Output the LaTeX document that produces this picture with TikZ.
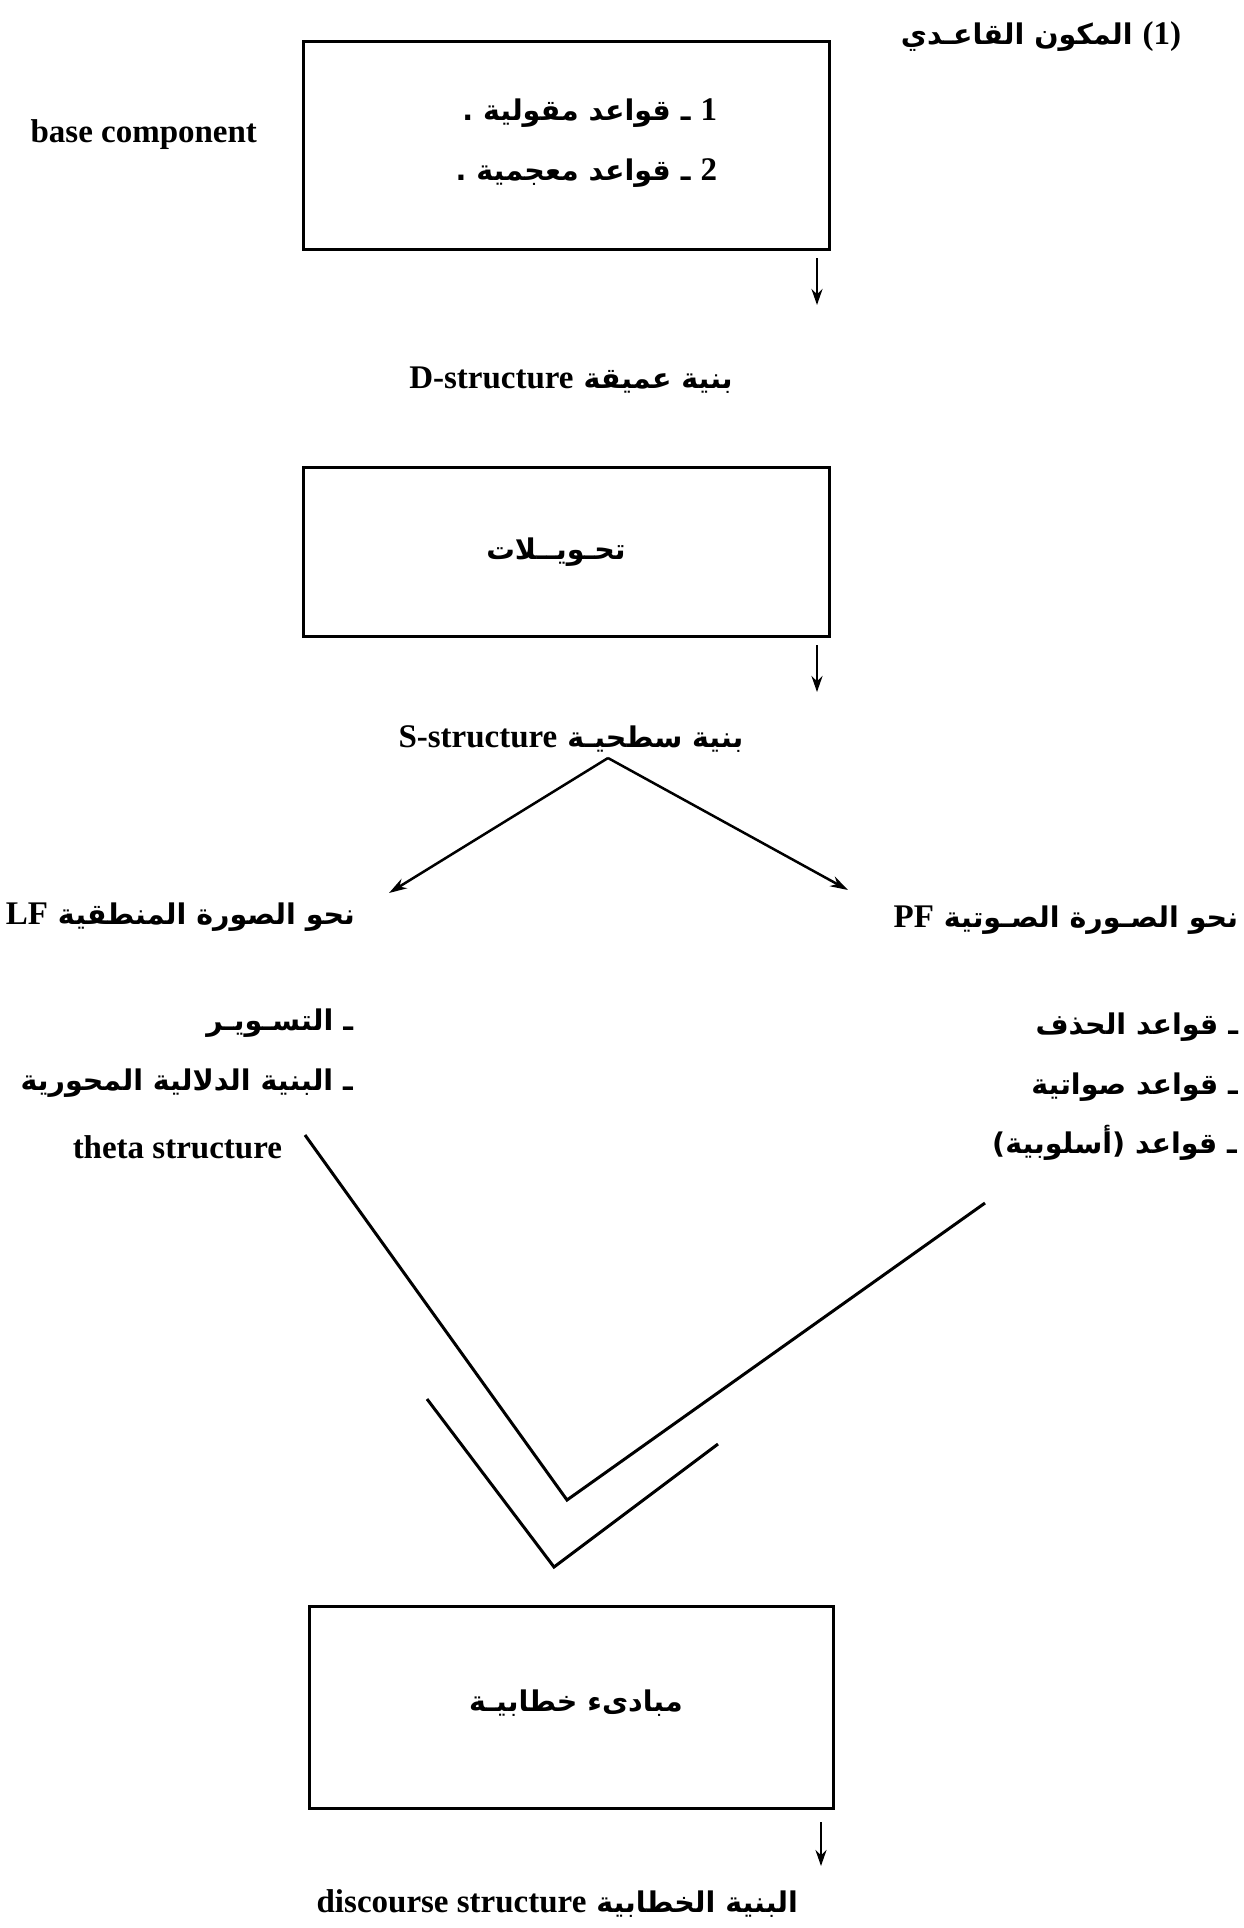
\documentclass[tikz,border=0pt]{standalone}
\usepackage{fontspec}
\setmainfont{Liberation Serif}
\newfontfamily\arfont[Script=Arabic]{DejaVu Sans}
\newfontfamily\latfont{Liberation Serif}
\TeXXeTstate=1
\usetikzlibrary{arrows.meta}
\newcommand\AR{\arfont\bfseries\fontsize{28.5}{34}\selectfont}
\newcommand\LT{\latfont\bfseries\fontsize{33}{40}\selectfont}

\tikzset{
  txt/.style={inner sep=0pt, outer sep=0pt},
  frame/.style={draw, line width=3pt, inner sep=0pt},
  downtip/.style={line width=2.5pt, -{Stealth[length=16pt,width=11pt]}},
  slanttip/.style={line width=2.5pt, -{Stealth[length=18pt,width=11pt]}},
  vee/.style={line width=3pt, line join=miter}
}

\begin{document}
\begin{tikzpicture}[x=1pt,y=-1pt]
\useasboundingbox (0,0) rectangle (1244,1928);

% heading
\node[txt, anchor=east] (title) at (1181,37)
  {\AR\beginR{\LT\beginL(1)\endL} المكون القاعـدي\endR};

% base component
\node[frame, anchor=north west, minimum width=526pt, minimum height=208pt] (base) at (302,40) {};
\node[txt, anchor=east] (rule1) at (717,113) {\AR\beginR{\LT 1} ـ قواعد مقولية .\endR};
\node[txt, anchor=east] (rule2) at (717,173) {\AR\beginR{\LT 2} ـ قواعد معجمية .\endR};
\node[txt, anchor=east] (basename) at (257,135) {\LT base component};

% D-structure
\coordinate (a1s) at (817,258);
\coordinate (a1e) at (817,305);
\draw[downtip] (a1s) -- (a1e);
\node[txt] (dstr) at (571,380) {\AR\beginR بنية عميقة {\LT D-structure}\endR};

% transformations
\node[frame, anchor=north west, minimum width=526pt, minimum height=169pt] (trans) at (302,466) {};
\node[txt] (transname) at (556,552) {\AR\beginR تحـويــلات\endR};

% S-structure
\coordinate (a2s) at (817,645);
\coordinate (a2e) at (817,692);
\draw[downtip] (a2s) -- (a2e);
\node[txt] (sstr) at (571,739) {\AR\beginR بنية سطحيـة {\LT S-structure}\endR};

% split towards LF and PF
\coordinate (apex) at (608,758);
\coordinate (lftip) at (389,893);
\coordinate (pftip) at (848,890);
\draw[slanttip] (apex) -- (lftip);
\draw[slanttip] (apex) -- (pftip);

\node[txt, anchor=east] (lf) at (355,917) {\AR\beginR نحو الصورة المنطقية {\LT LF}\endR};
\node[txt, anchor=east] (pf) at (1238,920) {\AR\beginR نحو الصـورة الصـوتية {\LT PF}\endR};

\node[txt, anchor=east] (lf1) at (353,1023) {\AR\beginR ـ التسـويـر\endR};
\node[txt, anchor=east] (lf2) at (353,1083) {\AR\beginR ـ البنية الدلالية المحورية\endR};
\node[txt, anchor=east] (theta) at (282,1147) {\LT theta structure};

\node[txt, anchor=east] (pf1) at (1238,1027) {\AR\beginR ـ قواعد الحذف\endR};
\node[txt, anchor=east] (pf2) at (1238,1087) {\AR\beginR ـ قواعد صواتية\endR};
\node[txt, anchor=east] (pf3) at (1237,1143) {\AR\beginR ـ قواعد (أسلوبية)\endR};

% converging lines
\coordinate (va) at (305,1135);
\coordinate (vb) at (567,1500);
\coordinate (vc) at (985,1203);
\draw[vee] (va) -- (vb) -- (vc);
\coordinate (wa) at (427,1399);
\coordinate (wb) at (554,1567);
\coordinate (wc) at (718,1444);
\draw[vee] (wa) -- (wb) -- (wc);

% discourse principles
\node[frame, anchor=north west, minimum width=524pt, minimum height=202pt] (disc) at (308,1605) {};
\node[txt] (discname) at (576,1703) {\AR\beginR مبادىء خطابيـة\endR};

\coordinate (a3s) at (821,1822);
\coordinate (a3e) at (821,1866);
\draw[downtip] (a3s) -- (a3e);
\node[txt, anchor=east] (dstruct) at (798,1903)
  {\AR\beginR البنية الخطابية {\LT\beginL discourse structure\endL}\endR};
\end{tikzpicture}
\end{document}
